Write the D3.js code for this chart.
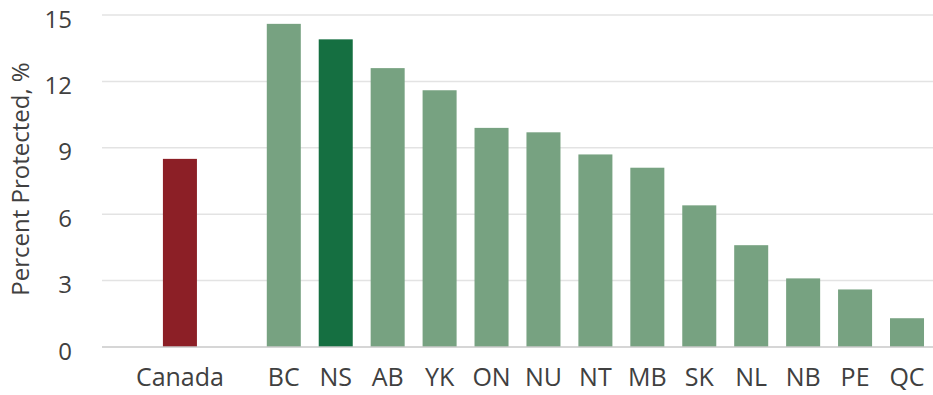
<!DOCTYPE html>
<html>
<head>
<meta charset="utf-8">
<script src="https://cdn.jsdelivr.net/npm/d3@7"></script>
<style>
  html, body { margin: 0; padding: 0; background: #ffffff; }
  svg { display: block; }
  text { font-family: "Open Sans", "Noto Sans", sans-serif; fill: #404040; }
</style>
</head>
<body>
<svg id="chart" width="933" height="395"></svg>
<script>
// Share of land and freshwater protected, by jurisdiction
const regions = ["Canada", "BC", "NS", "AB", "YK", "ON", "NU", "NT", "MB", "SK", "NL", "NB", "PE", "QC"];
const percentProtected = [8.5, 14.6, 13.9, 12.6, 11.6, 9.9, 9.7, 8.7, 8.1, 6.4, 4.6, 3.1, 2.6, 1.3];
const yTicks = [0, 3, 6, 9, 12, 15];
const yTitle = "Percent Protected, %";

// Slots along the x axis: empty slots pad the national bar from the provinces
const slots = ["_pad0", regions[0], "_pad1", ...regions.slice(1)];

const colorFor = name => name === "Canada" ? "#8c1f26" : (name === "NS" ? "#156f41" : "#77a281");

const svg = d3.select("#chart");
const margin = { top: 15, right: 0, bottom: 48, left: 102 };
const width = 933 - margin.left - margin.right;
const height = 395 - margin.top - margin.bottom;

const x = d3.scaleBand().domain(slots).range([0, width]).paddingInner(0.345).paddingOuter(0.173);
const y = d3.scaleLinear().domain([0, 15]).range([height, 0]);

const g = svg.append("g").attr("transform", `translate(${margin.left},${margin.top})`);

// Horizontal gridlines
g.append("g")
  .selectAll("line")
  .data(yTicks.filter(t => t > 0))
  .join("line")
  .attr("x1", 0).attr("x2", width)
  .attr("y1", d => y(d)).attr("y2", d => y(d))
  .attr("stroke", "#e3e3e3").attr("stroke-width", 1.5);

// Y axis labels
const yAxis = g.append("g").call(d3.axisLeft(y).tickValues(yTicks).tickSize(0).tickPadding(30));
yAxis.select(".domain").remove();
yAxis.selectAll("text").attr("dy", "0.5em").style("font-size", "24px").attr("fill", "#404040");

// Bars
g.append("g")
  .selectAll("rect")
  .data(regions.map((r, i) => ({ name: r, value: percentProtected[i] })))
  .join("rect")
  .attr("x", d => x(d.name))
  .attr("width", x.bandwidth())
  .attr("y", d => y(d.value))
  .attr("height", d => y(0) - y(d.value))
  .attr("fill", d => colorFor(d.name));

// Baseline
g.append("line")
  .attr("x1", 0).attr("x2", width)
  .attr("y1", y(0)).attr("y2", y(0))
  .attr("stroke", "#c8c8c8").attr("stroke-width", 1.5);

// X axis labels
const xAxis = g.append("g")
  .attr("transform", `translate(0,${height})`)
  .call(d3.axisBottom(x).tickValues(regions).tickSize(0).tickPadding(21));
xAxis.select(".domain").remove();
xAxis.selectAll("text").style("font-size", "25px").attr("fill", "#404040");

// Y axis title
svg.append("text")
  .attr("transform", `translate(29,179) rotate(-90)`)
  .attr("text-anchor", "middle")
  .style("font-size", "24px")
  .text(yTitle);
</script>
</body>
</html>
